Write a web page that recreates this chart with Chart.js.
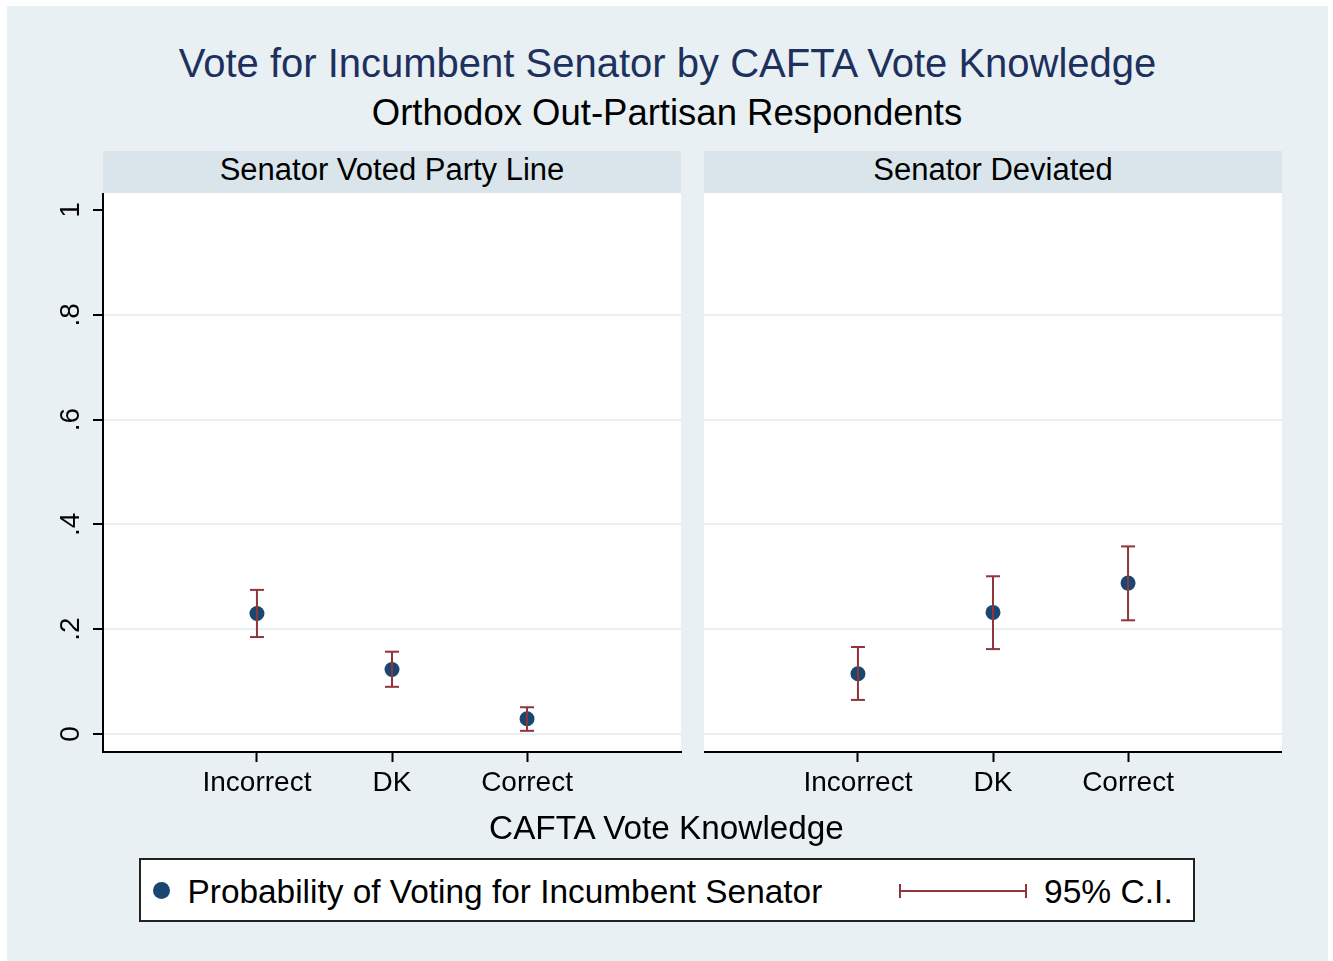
<!DOCTYPE html>
<html>
<head>
<meta charset="utf-8">
<script src="https://cdn.jsdelivr.net/npm/chart.js@4.4.1/dist/chart.umd.min.js"></script>
<style>
  body { margin: 0; background: #fff; width: 1333px; height: 961px; position: relative; overflow: hidden; font-family: 'Liberation Sans', Arial, sans-serif; }
  .abs { position: absolute; }
  .t { position: absolute; line-height: 1; white-space: nowrap; color: #000; }
  .c { transform: translateX(-50%); }
  canvas { position: absolute; }
</style>
</head>
<body>
<div class="abs" style="left:7px;top:6px;width:1321px;height:955px;background:#e8f0f3"></div>

<div class="t c" style="left:667.5px;top:43.2px;font-size:40px;color:#1e305e">Vote for Incumbent Senator by CAFTA Vote Knowledge</div>
<div class="t c" style="left:667px;top:94.8px;font-size:36.5px">Orthodox Out-Partisan Respondents</div>

<div class="abs" style="left:103px;top:151px;width:578px;height:42px;background:#d9e5eb"></div>
<div class="abs" style="left:704px;top:151px;width:578px;height:42px;background:#d9e5eb"></div>
<div class="t c" style="left:392px;top:153.8px;font-size:31px">Senator Voted Party Line</div>
<div class="t c" style="left:993px;top:153.8px;font-size:31px">Senator Deviated</div>

<div class="abs" style="left:103px;top:193px;width:578px;height:559px;background:#fff"></div>
<div class="abs" style="left:704px;top:193px;width:578px;height:559px;background:#fff"></div>

<canvas id="leftPanel" width="660" height="620" style="left:30px;top:193px"></canvas>
<canvas id="rightPanel" width="578" height="620" style="left:704px;top:193px"></canvas>

<div class="t c" style="left:666.5px;top:810.8px;font-size:33.3px">CAFTA Vote Knowledge</div>

<div class="abs" style="left:139px;top:858px;width:1052px;height:60px;border:2px solid #222;background:#fff"></div>
<div class="abs" style="left:152.5px;top:881.5px;width:17px;height:17px;border-radius:50%;background:#1a476f"></div>
<div class="t" style="left:187.5px;top:875px;font-size:33.4px">Probability of Voting for Incumbent Senator</div>
<div class="abs" style="left:900px;top:890px;width:126px;height:2px;background:#90353b"></div>
<div class="abs" style="left:899px;top:884px;width:2px;height:14px;background:#90353b"></div>
<div class="abs" style="left:1025px;top:884px;width:2px;height:14px;background:#90353b"></div>
<div class="t" style="left:1044px;top:875px;font-size:33.6px">95% C.I.</div>

<script>
const categories = ['Incorrect', 'DK', 'Correct'];
const xPositions = [1, 2, 3];

const partyLineProb = [0.230, 0.123, 0.029];
const partyLineLow = [0.185, 0.090, 0.006];
const partyLineHigh = [0.275, 0.157, 0.051];

const deviatedProb = [0.115, 0.232, 0.288];
const deviatedLow = [0.065, 0.162, 0.217];
const deviatedHigh = [0.166, 0.301, 0.358];

const yTickValues = [0, 0.2, 0.4, 0.6, 0.8, 1];
const yTickLabels = ['0', '.2', '.4', '.6', '.8', '1'];

const navy = '#1a476f';
const maroon = '#90353b';
const gridColor = '#e8f0f3';
const fontFamily = "'Liberation Sans', Arial, sans-serif";

function makePanel(canvasId, prob, low, high, showY, padRight) {
    const points = xPositions.map(function (x, i) { return { x: x, y: prob[i] }; });
    // each interval is two points, then a null so the line breaks
    const ci = [];
    xPositions.forEach(function (x, i) {
        ci.push({ x: x, y: low[i] }, { x: x, y: high[i] }, { x: x, y: null });
    });

    return new Chart(document.getElementById(canvasId), {
        type: 'scatter',
        data: {
            datasets: [{
                type: 'line',
                label: '95% C.I.',
                data: ci,
                borderColor: maroon,
                borderWidth: 2,
                spanGaps: false,
                pointStyle: 'line',
                pointRadius: 7,
                pointBorderWidth: 2,
                pointBorderColor: maroon,
                order: 1
            }, {
                label: 'Probability of Voting for Incumbent Senator',
                data: points,
                backgroundColor: navy,
                borderWidth: 0,
                pointRadius: 7.5,
                order: 2
            }]
        },
        options: {
            responsive: false,
            animation: false,
            events: [],
            layout: { padding: { top: 0, left: 0, bottom: 0, right: padRight }, autoPadding: false },
            plugins: {
                legend: { display: false },
                tooltip: { enabled: false }
            },
            scales: {
                x: {
                    type: 'linear',
                    min: -0.14,
                    max: 4.14,
                    afterBuildTicks: function (s) { s.ticks = xPositions.map(function (v) { return { value: v }; }); },
                    afterFit: function (s) { s.height = 61; s.paddingLeft = 0; s.paddingRight = 0; },
                    ticks: {
                        autoSkip: false,
                        maxRotation: 0,
                        padding: 4,
                        color: '#000',
                        font: { family: fontFamily, size: 28 },
                        callback: function (v) { return categories[xPositions.indexOf(v)]; }
                    },
                    grid: { drawOnChartArea: false, drawTicks: true, tickLength: 10, tickColor: '#000', tickWidth: 2 },
                    border: { display: true, color: '#000', width: 2 }
                },
                y: {
                    min: -0.0344,
                    max: 1.0325,
                    afterBuildTicks: function (s) { s.ticks = yTickValues.map(function (v) { return { value: v }; }); },
                    afterFit: function (s) { s.width = showY ? 73 : 0; s.paddingTop = 0; s.paddingBottom = 0; },
                    ticks: {
                        display: showY,
                        minRotation: 90,
                        maxRotation: 90,
                        crossAlign: 'center',
                        padding: 10,
                        color: '#000',
                        font: { family: fontFamily, size: 28 },
                        callback: function (v) { return yTickLabels[yTickValues.indexOf(v)]; }
                    },
                    grid: {
                        color: function (ctx) { return ctx.tick && ctx.tick.value === 1 ? 'rgba(0,0,0,0)' : gridColor; },
                        lineWidth: 2,
                        drawTicks: showY,
                        tickLength: 10,
                        tickColor: '#000',
                        tickWidth: 2
                    },
                    border: { display: showY, color: '#000', width: 2 }
                }
            }
        }
    });
}

makePanel('leftPanel', partyLineProb, partyLineLow, partyLineHigh, true, 9);
makePanel('rightPanel', deviatedProb, deviatedLow, deviatedHigh, false, 0);
</script>
</body>
</html>
